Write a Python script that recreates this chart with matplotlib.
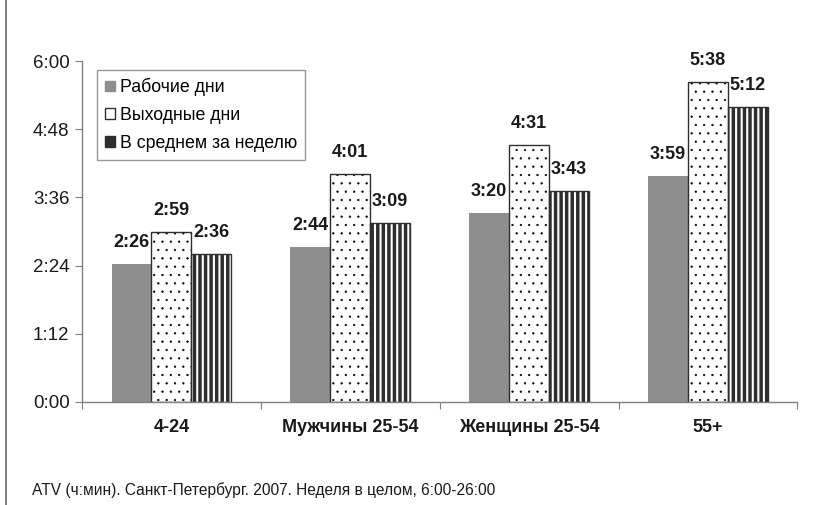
import matplotlib
matplotlib.use("Agg")
import matplotlib.pyplot as plt
import numpy as np
from matplotlib.patches import Patch
from matplotlib.lines import Line2D
from matplotlib.ticker import FixedLocator, FuncFormatter

categories = ["4-24", "Мужчины 25-54", "Женщины 25-54", "55+"]
series_names = ["Рабочие дни", "Выходные дни", "В среднем за неделю"]
workdays = [146, 164, 200, 239]      # minutes
weekends = [179, 241, 271, 338]
week_avg = [156, 189, 223, 312]
yticks = [0, 72, 144, 216, 288, 360]
footnote = "ATV (ч:мин). Санкт-Петербург. 2007. Неделя в целом, 6:00-26:00"

plt.rcParams['font.family'] = ['Liberation Sans', 'DejaVu Sans']

GRAY = "#8e8e8e"
DARK = "#2e2e2e"
AX = "#7f7f7f"

fig = plt.figure(figsize=(8.26, 5.05), dpi=100)
ax = fig.add_axes([0.0993, 0.204, 0.866, 0.675])

x = np.arange(len(categories))
w = 0.223

def fmt(v):
    v = int(round(v))
    return f"{v // 60}:{v % 60:02d}"

def set_hlw(bars, lw):
    for r in bars:
        if hasattr(r, "set_hatch_linewidth"):
            r.set_hatch_linewidth(lw)

b1 = ax.bar(x - w, workdays, w, color=GRAY, edgecolor=GRAY, linewidth=0)
with plt.rc_context({'hatch.linewidth': 0.4}):
    b2 = ax.bar(x, weekends, w, color="white", edgecolor="black", hatch="..", linewidth=0)
    set_hlw(b2, 0.4)
ax.bar(x, weekends, w, color="none", edgecolor=DARK, linewidth=1.0)
with plt.rc_context({'hatch.linewidth': 1.5}):
    b3 = ax.bar(x + w, week_avg, w, color=DARK, edgecolor="white", hatch="|||", linewidth=0)
    set_hlw(b3, 1.5)
ax.bar(x + w, week_avg, w, color="none", edgecolor=DARK, linewidth=1.0)

for bars, vals in ((b1, workdays), (b2, weekends), (b3, week_avg)):
    for rect, v in zip(bars, vals):
        ax.annotate(fmt(v), (rect.get_x() + rect.get_width() / 2, v),
                    xytext=(0, 13), textcoords="offset pixels",
                    ha="center", va="bottom", fontsize=13, fontweight="bold",
                    color="#1a1a1a")

ax.set_xlim(-0.5, len(categories) - 0.5)
ax.set_ylim(0, 360)
ax.yaxis.set_major_locator(FixedLocator(yticks))
ax.yaxis.set_major_formatter(FuncFormatter(lambda v, p: fmt(v)))

ax.set_xticks(np.arange(len(categories) + 1) - 0.5)
ax.set_xticklabels([])
ax.set_xticks(x, minor=True)
ax.set_xticklabels(categories, minor=True, fontsize=13, fontweight="bold", color="#1a1a1a")
ax.tick_params(axis="x", which="minor", length=0, pad=12)
ax.tick_params(axis="x", which="major", length=5, color=AX, direction="out")
ax.tick_params(axis="y", length=5, color=AX, direction="out", labelsize=13.5,
               labelcolor="#1a1a1a", pad=4)

for s in ("top", "right"):
    ax.spines[s].set_visible(False)
for s in ("left", "bottom"):
    ax.spines[s].set_color(AX)
    ax.spines[s].set_linewidth(1.0)

handles = [Patch(facecolor=GRAY, edgecolor=GRAY),
           Patch(facecolor="white", edgecolor=DARK, linewidth=1.0),
           Patch(facecolor=DARK, edgecolor=DARK, hatch="|")]
leg = ax.legend(handles, series_names, loc="upper left", bbox_to_anchor=(0.021, 0.974),
                borderaxespad=0, fontsize=12.8, frameon=True, fancybox=False,
                handlelength=0.55, handleheight=0.55, handletextpad=0.3,
                labelspacing=0.6, borderpad=0.45)
leg.get_frame().set_edgecolor(AX)
leg.get_frame().set_linewidth(1.0)

fig.text(32 / 826, 1 - 490 / 505, footnote, fontsize=11.2, va="center", ha="left",
         color="#1a1a1a")
fig.add_artist(Line2D([6 / 826, 6 / 826], [0, 1], transform=fig.transFigure,
                      color="#666666", linewidth=1.2))

fig.savefig("out.png", dpi=100)
